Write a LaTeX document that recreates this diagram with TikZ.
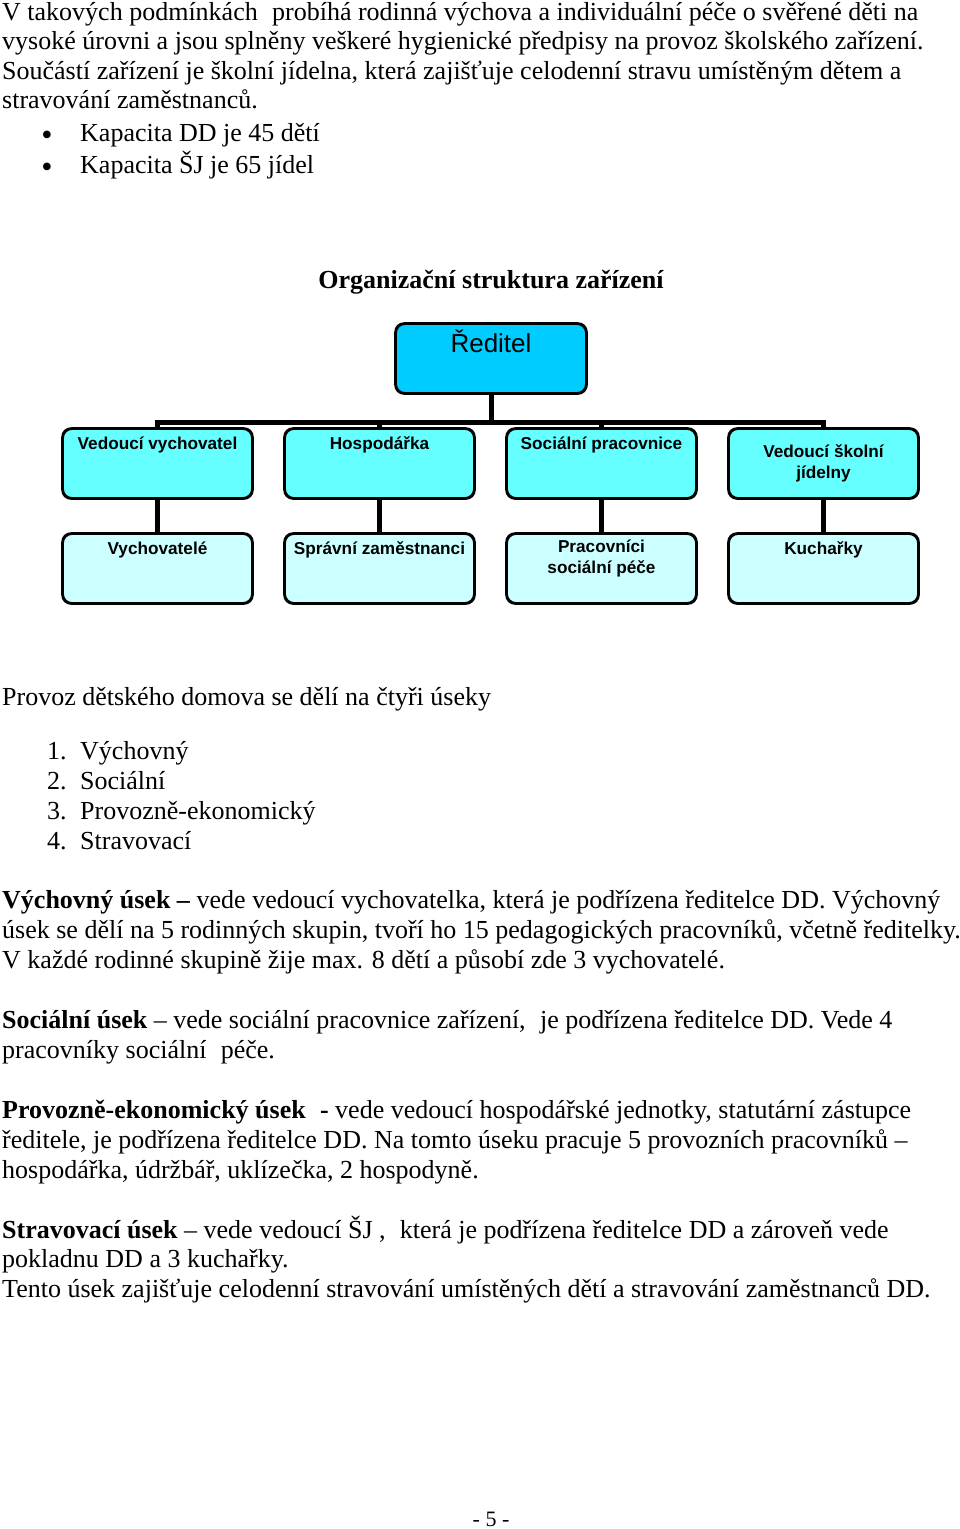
\documentclass[tikz,border=0pt]{standalone}
\usepackage{fontspec}
\setmainfont{Liberation Serif}
\newfontfamily\arial{Liberation Sans}
\definecolor{cdir}{HTML}{00CCFF}
\definecolor{cmid}{HTML}{66FFFF}
\definecolor{clow}{HTML}{CCFFFF}
\begin{document}
\begin{tikzpicture}[x=1pt,y=-1pt,
  txt/.style={anchor=base west,inner sep=0pt,font=\fontsize{26}{30}\selectfont},
  ctr/.style={anchor=base,inner sep=0pt,font=\fontsize{26}{30}\selectfont},
  bul/.style={anchor=center,inner sep=0pt,font=\fontsize{32}{32}\selectfont},
  box/.style={draw=black,line width=1.8pt,rounded corners=9pt,minimum width=189pt,minimum height=69pt,inner sep=0pt},
  boxtxt/.style={inner sep=0pt,align=center,font=\arial\bfseries\fontsize{17.2}{21}\selectfont},
  conn/.style={draw=black,line width=5pt}]
\path[use as bounding box] (0,0) rectangle (960,1529);
% intro text
\node[txt] (t1) at (2,20) {V takových podmínkách\hspace{0.3em} probíhá rodinná výchova a individuální péče o svěřené děti na};
\node[txt] (t2) at (2,49.5) {vysoké úrovni a jsou splněny veškeré hygienické předpisy na provoz školského zařízení.};
\node[txt] (t3) at (2,79) {Součástí zařízení je školní jídelna, která zajišťuje celodenní stravu umístěným dětem a};
\node[txt] (t4) at (2,108.5) {stravování zaměstnanců.};
\node[bul] (b1) at (47,138) {•};
\node[txt] (t5) at (80,141) {Kapacita DD je 45 dětí};
\node[bul] (b2) at (47,170) {•};
\node[txt] (t6) at (80,173) {Kapacita ŠJ je 65 jídel};
% title
\node[ctr,font=\bfseries\fontsize{26}{30}\selectfont] (title) at (491,288) {Organizační struktura zařízení};
% org chart boxes
\node[box,fill=cdir,minimum width=190pt] (dir) at (491,358.5) {};
\node[inner sep=0pt,anchor=base,font=\arial\fontsize{26}{30}\selectfont] (dirt) at (491,352) {Ředitel};
\foreach \i/\x in {1/157.5,2/379.5,3/601.5,4/823.5}{
  \node[box,fill=cmid] (m\i) at (\x,463.5) {};
  \node[box,fill=clow] (l\i) at (\x,568.5) {};
}
\coordinate (bar) at (491,422);
\draw[conn] (dir.south) -- (bar);
\draw[conn] (m1.north) -- (m1.north |- bar) -- (m4.north |- bar) -- (m4.north);
\draw[conn] (m2.north) -- (m2.north |- bar);
\draw[conn] (m3.north) -- (m3.north |- bar);
\foreach \i in {1,...,4}{\draw[conn] (m\i.south) -- (l\i.north);}
% redraw borders over connector ends
\foreach \i/\x in {1/157.5,2/379.5,3/601.5,4/823.5}{
  \draw[line width=1.8pt,rounded corners=9pt] (m\i.south west) rectangle (m\i.north east);
  \draw[line width=1.8pt,rounded corners=9pt] (l\i.south west) rectangle (l\i.north east);
}
\draw[line width=1.8pt,rounded corners=9pt] (dir.south west) rectangle (dir.north east);
\node[boxtxt,anchor=base] (m1t) at (157.5,449) {Vedoucí vychovatel};
\node[boxtxt,anchor=base] (m2t) at (379.5,449) {Hospodářka};
\node[boxtxt,anchor=base] (m3t) at (601.5,449) {Sociální pracovnice};
\node[boxtxt,anchor=center] (m4t) at (823.5,463) {Vedoucí školní\\jídelny};
\node[boxtxt,anchor=base] (l1t) at (157.5,554) {Vychovatelé};
\node[boxtxt,anchor=base] (l2t) at (379.5,554) {Správní zaměstnanci};
\node[boxtxt,anchor=center] (l3t) at (601.5,558.5) {Pracovníci\\sociální péče};
\node[boxtxt,anchor=base] (l4t) at (823.5,554) {Kuchařky};
% sections
\node[txt] (p0) at (2,705) {Provoz dětského domova se dělí na čtyři úseky};
\node[txt] (n1) at (47,759) {1.};\node[txt] (s1) at (80,759) {Výchovný};
\node[txt] (n2) at (47,789) {2.};\node[txt] (s2) at (80,789) {Sociální};
\node[txt] (n3) at (47,819) {3.};\node[txt] (s3) at (80,819) {Provozně-ekonomický};
\node[txt] (n4) at (47,849) {4.};\node[txt] (s4) at (80,849) {Stravovací};
\node[txt] (a1) at (2,908) {\textbf{Výchovný úsek –} vede vedoucí vychovatelka, která je podřízena ředitelce DD. Výchovný};
\node[txt] (a2) at (2,938) {úsek se dělí na 5 rodinných skupin, tvoří ho 15 pedagogických pracovníků, včetně ředitelky.};
\node[txt] (a3) at (2,968) {V každé rodinné skupině žije max. 8 dětí a působí zde 3 vychovatelé.};
\node[txt] (b1l) at (2,1028) {\textbf{Sociální úsek} – vede sociální pracovnice zařízení,\hspace{0.3em} je podřízena ředitelce DD. Vede 4};
\node[txt] (b2l) at (2,1058) {pracovníky sociální\hspace{0.3em} péče.};
\node[txt] (c1) at (2,1118) {\textbf{Provozně-ekonomický úsek\hspace{0.3em} -} vede vedoucí hospodářské jednotky, statutární zástupce};
\node[txt] (c2) at (2,1148) {ředitele, je podřízena ředitelce DD. Na tomto úseku pracuje 5 provozních pracovníků –};
\node[txt] (c3) at (2,1178) {hospodářka, údržbář, uklízečka, 2 hospodyně.};
\node[txt] (d1) at (2,1238) {\textbf{Stravovací úsek} – vede vedoucí ŠJ ,\hspace{0.3em} která je podřízena ředitelce DD a zároveň vede};
\node[txt] (d2) at (2,1267) {pokladnu DD a 3 kuchařky.};
\node[txt] (d3) at (2,1297) {Tento úsek zajišťuje celodenní stravování umístěných dětí a stravování zaměstnanců DD.};
\node[ctr,font=\fontsize{22}{26}\selectfont] (pg) at (491,1526) {- 5 -};
\end{tikzpicture}
\end{document}
